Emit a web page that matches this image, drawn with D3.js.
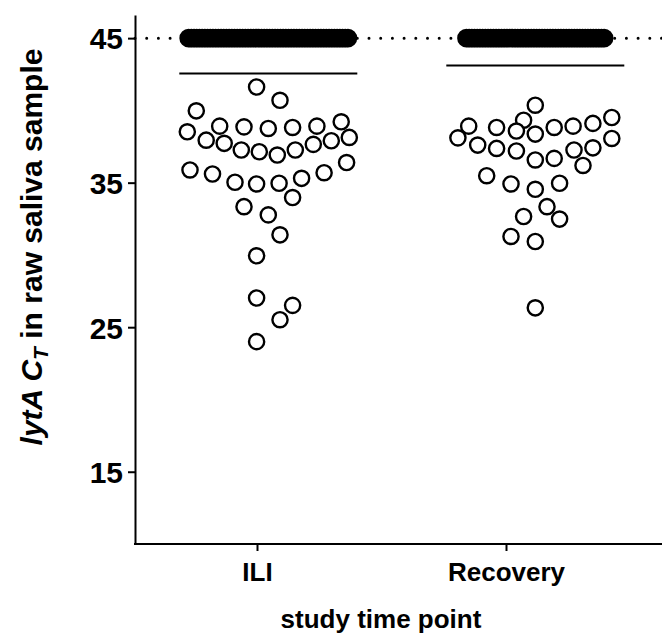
<html>
<head>
	<title>lytA CT by study time point</title>
	<script src="https://d3js.org/d3.v7.min.js"></script>
	<style type="text/css">
		body {
			margin: 0;
			padding: 0;
			background: #fff;
		}
		#chart {
			margin: 0;
			padding: 0;
		}
		text {
			font-family: "Liberation Sans", Arial, sans-serif;
			font-weight: bold;
		}
	</style>
</head>
<body>

<div id="chart"></div>

<script>

var groups = ["ILI", "Recovery"];

// detected CT values
var iliValues = [41.62, 40.70, 39.97, 38.52, 38.91, 38.86, 38.75, 38.82, 38.91, 39.21,
	37.94, 37.72, 37.26, 37.14, 36.91, 37.26, 37.65, 37.90, 38.13, 36.39,
	35.88, 35.60, 35.03, 34.91, 34.96, 35.30, 35.69, 33.34, 33.97, 32.77,
	31.39, 29.94, 27.02, 26.51, 25.52, 24.00];
// horizontal place in the swarm, -1..1 of the column half width
var iliSwarm = [-0.13, 0.13, -0.80, -0.90, -0.54, -0.27, 0, 0.27, 0.54, 0.81,
	-0.69, -0.49, -0.30, -0.10, 0.10, 0.30, 0.50, 0.70, 0.90, 0.87,
	-0.87, -0.62, -0.37, -0.13, 0.12, 0.37, 0.62, -0.27, 0.27, 0,
	0.13, -0.13, -0.13, 0.27, 0.13, -0.13];

var recValues = [40.36, 38.91, 38.10, 38.82, 39.32, 38.57, 38.36, 38.82, 38.91, 39.10,
	39.51, 37.60, 37.37, 37.19, 36.57, 36.68, 37.26, 37.41, 38.06, 36.19,
	35.48, 34.91, 34.54, 34.96, 33.34, 32.66, 32.48, 31.28, 30.93, 26.34];
var recSwarm = [0, -0.74, -0.86, -0.43, -0.13, -0.21, 0, 0.21, 0.42, 0.64,
	0.85, -0.64, -0.43, -0.21, 0, 0.21, 0.43, 0.64, 0.85, 0.53,
	-0.54, -0.27, 0, 0.27, 0.13, -0.13, 0.27, -0.27, 0, 0];

// samples with no detection, plotted at the cut-off
var censoredCount = [60, 52];
var cutoff = 45;
var lineValues = [42.55, 43.1];

var yTicks = [15, 25, 35, 45];

function drawChart() {
	var w = 662,
		h = 638;

	var svg = d3.select("#chart").append("svg")
		.attr("width", w)
		.attr("height", h);

	var y = d3.scaleLinear()
		.domain([10, 46.6])
		.range([544, 15]);

	var x = d3.scalePoint()
		.domain(groups)
		.range([257, 506]);

	// the dot columns sit a bit right of the tick marks
	var colShift = [11.3, 29.3];
	var half = 90;
	var off = d3.scaleLinear().domain([-1, 1]).range([-half, half]);

	function cx(i) { return x(groups[i]) + colShift[i]; }

	// dotted cut-off line
	svg.append("line")
		.attr("x1", 135)
		.attr("x2", w)
		.attr("y1", y(cutoff))
		.attr("y2", y(cutoff))
		.attr("stroke", "#000")
		.attr("stroke-width", 3)
		.attr("stroke-linecap", "round")
		.attr("stroke-dasharray", "0 11.7");

	var sets = [
		{ vals: iliValues, swarm: iliSwarm },
		{ vals: recValues, swarm: recSwarm }
	];

	sets.forEach(function(s, i) {
		// censored points: packed in a row at the cut-off, they merge into a bar
		var n = censoredCount[i],
			step = 2.7;
		svg.append("g").selectAll("circle")
			.data(d3.range(n))
			.enter().append("circle")
			.attr("cx", function(k) { return cx(i) + (k - (n - 1) / 2) * step; })
			.attr("cy", y(cutoff))
			.attr("r", 8)
			.attr("fill", "#000")
			.attr("stroke", "#000")
			.attr("stroke-width", 2.6);

		svg.append("line")
			.attr("x1", cx(i) - 89)
			.attr("x2", cx(i) + 89)
			.attr("y1", y(lineValues[i]))
			.attr("y2", y(lineValues[i]))
			.attr("stroke", "#000")
			.attr("stroke-width", 2);

		svg.append("g").selectAll("circle")
			.data(s.vals)
			.enter().append("circle")
			.attr("cx", function(d, k) { return cx(i) + off(s.swarm[k]); })
			.attr("cy", function(d) { return y(d); })
			.attr("r", 7.6)
			.attr("fill", "#fff")
			.attr("stroke", "#000")
			.attr("stroke-width", 2.4);
	});

	// y axis
	var yAxis = svg.append("g")
		.attr("transform", "translate(135,0)")
		.call(d3.axisLeft(y).tickValues(yTicks).tickSize(7).tickPadding(5).tickSizeOuter(0));
	yAxis.select(".domain").attr("stroke-width", 2);
	yAxis.selectAll(".tick line").attr("stroke-width", 2);
	yAxis.selectAll(".tick text")
		.attr("font-size", 30)
		.attr("fill", "#000")
		.attr("dy", "0.36em");

	// x axis
	var xAxis = svg.append("g")
		.attr("transform", "translate(0,544)")
		.call(d3.axisBottom(x).tickSize(7).tickPadding(12).tickSizeOuter(0));
	xAxis.select(".domain").remove();
	xAxis.append("line")
		.attr("x1", 134)
		.attr("x2", w)
		.attr("stroke", "#000")
		.attr("stroke-width", 2);
	xAxis.selectAll(".tick line").attr("stroke-width", 2);
	xAxis.selectAll(".tick text")
		.attr("font-size", 26)
		.attr("fill", "#000");

	svg.append("text")
		.attr("x", 381)
		.attr("y", 628)
		.attr("text-anchor", "middle")
		.attr("font-size", 26)
		.text("study time point");

	var yt = svg.append("text")
		.attr("transform", "translate(42,247) rotate(-90)")
		.attr("text-anchor", "middle")
		.attr("font-size", 30);
	yt.append("tspan").attr("font-style", "italic").text("lytA C");
	yt.append("tspan").attr("font-style", "italic").attr("font-size", 21).attr("dy", 6).text("T");
	yt.append("tspan").attr("dy", -6).text(" in raw saliva sample");
}

drawChart();

</script>
</body>
</html>
